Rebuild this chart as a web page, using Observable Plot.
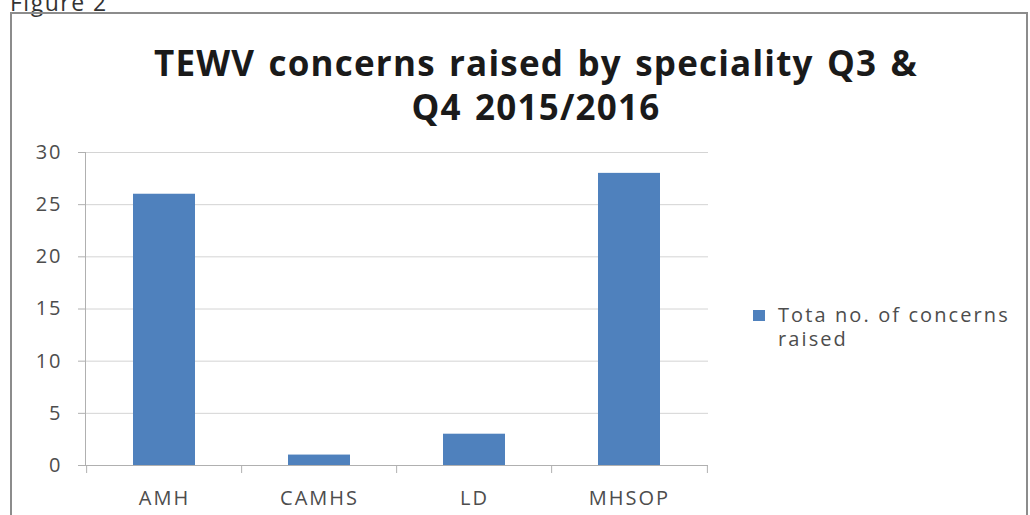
<!DOCTYPE html>
<html><head><meta charset="utf-8">
<script src="https://cdn.jsdelivr.net/npm/d3@7"></script>
<script src="https://cdn.jsdelivr.net/npm/@observablehq/plot@0.6"></script>
<style>
body{margin:0;width:1030px;height:515px;overflow:hidden;position:relative;background:#fff;font-family:"Open Sans",sans-serif;}
#fig{position:absolute;left:10px;top:-9px;font-size:23px;line-height:22px;letter-spacing:1.5px;color:#333;white-space:nowrap;}
#frame{position:absolute;left:10px;top:12px;width:1018px;height:600px;border:2px solid #8c8c8c;box-sizing:border-box;}
#title{position:absolute;left:136px;width:800px;top:41px;text-align:center;font-weight:700;font-size:35px;letter-spacing:1.2px;word-spacing:3px;color:#1a1a1a;}
#title div{height:44px;line-height:44px;white-space:nowrap;}
#chart{position:absolute;left:0;top:135px;}
#legend{position:absolute;left:753px;top:303px;display:flex;align-items:flex-start;}
#legend .sw{width:12px;height:11px;background:#4f81bd;margin-top:7px;margin-right:13px;flex:none;}
#legend .lb{width:250px;font-size:20px;line-height:24px;letter-spacing:2.1px;color:#4d4d4d;}
</style></head>
<body>
<div id="fig"></div>
<div id="frame"></div>
<div id="title"></div>
<div id="chart"></div>
<div id="legend"><div class="sw"></div><div class="lb"></div></div>
<script>
const figureLabel = "Figure 2";
const titleLines = ["TEWV concerns raised by speciality Q3 &", "Q4 2015/2016"];
const categories = ["AMH", "CAMHS", "LD", "MHSOP"];
const values = [26, 1, 3, 28];
const seriesName = "Tota no. of concerns raised";
const yTicks = [0, 5, 10, 15, 20, 25, 30];
const barColor = "#4f81bd";

document.getElementById("fig").textContent = figureLabel;
document.getElementById("title").innerHTML = titleLines.map(t => `<div>${t}</div>`).join("");
document.querySelector("#legend .lb").textContent = seriesName;

const data = categories.map((c, i) => ({cat: c, value: values[i]}));
const W = 1030, H = 380, mL = 85, mR = 322, mT = 17, mB = 50;
const step = (W - mL - mR) / categories.length;

const chart = Plot.plot({
  width: W, height: H,
  marginLeft: mL, marginRight: mR, marginTop: mT, marginBottom: mB,
  style: {fontFamily: "'Open Sans', sans-serif", letterSpacing: "2px", background: "transparent"},
  x: {domain: categories, paddingInner: 0.6, paddingOuter: 0.3, label: null},
  y: {domain: [0, 30], label: null},
  marks: [
    Plot.gridY(yTicks.filter(d => d > 0), {stroke: "#d4d4d4", strokeOpacity: 1}),
    Plot.barY(data, {x: "cat", y: "value", fill: barColor}),
    Plot.ruleY([0], {stroke: "#b0b0b0"}),
    Plot.frame({anchor: "left", stroke: "#b0b0b0"}),
    Plot.axisY(yTicks, {tickSize: 7, tickFormat: () => "", stroke: "#b0b0b0"}),
    Plot.axisY(yTicks, {tickSize: 0, tickPadding: 23, fontSize: 20, fill: "#4d4d4d"}),
    Plot.axisX(categories, {tickSize: 8, tickFormat: () => "", stroke: "#b0b0b0", dx: -step / 2}),
    Plot.axisX(categories.slice(-1), {tickSize: 8, tickFormat: () => "", stroke: "#b0b0b0", dx: step / 2}),
    Plot.axisX(categories, {tickSize: 0, tickPadding: 25, fontSize: 20, fill: "#4d4d4d"})
  ]
});
document.getElementById("chart").appendChild(chart);
</script>
</body></html>
